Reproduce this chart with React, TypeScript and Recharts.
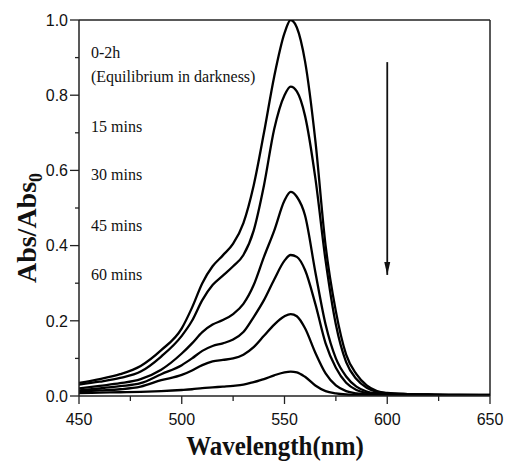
import { LineChart, Line, XAxis, YAxis, ReferenceLine, Customized } from 'recharts';

// wavelength grid (nm) and normalised absorbance
const WAVELENGTHS = [450, 460, 470, 480, 490, 500, 505, 510, 515, 520, 525, 530, 535, 540, 545, 550, 553, 556, 560, 565, 570, 575, 580, 585, 590, 595, 600, 610, 620, 635, 650];

const ABS_0_2H = [0.035, 0.045, 0.058, 0.08, 0.122, 0.18, 0.235, 0.3, 0.345, 0.374, 0.405, 0.46, 0.56, 0.7, 0.85, 0.965, 1.0, 0.98, 0.89, 0.68, 0.4, 0.225, 0.11, 0.058, 0.028, 0.013, 0.008, 0.005, 0.004, 0.003, 0.003];
const ABS_15 = [0.03, 0.038, 0.048, 0.065, 0.105, 0.16, 0.2, 0.255, 0.295, 0.32, 0.345, 0.375, 0.44, 0.56, 0.71, 0.8, 0.823, 0.81, 0.745, 0.58, 0.36, 0.19, 0.09, 0.045, 0.022, 0.011, 0.007, 0.005, 0.004, 0.003, 0.003];
const ABS_30 = [0.02, 0.027, 0.034, 0.045, 0.07, 0.113, 0.14, 0.17, 0.19, 0.202, 0.218, 0.245, 0.295, 0.37, 0.44, 0.52, 0.543, 0.53, 0.48, 0.33, 0.19, 0.1, 0.052, 0.025, 0.012, 0.007, 0.005, 0.004, 0.003, 0.003, 0.002];
const ABS_45 = [0.015, 0.02, 0.026, 0.034, 0.058, 0.082, 0.1, 0.12, 0.133, 0.14, 0.15, 0.17, 0.21, 0.255, 0.31, 0.36, 0.375, 0.37, 0.335, 0.245, 0.14, 0.075, 0.035, 0.016, 0.008, 0.005, 0.004, 0.003, 0.003, 0.002, 0.002];
const ABS_60 = [0.012, 0.015, 0.018, 0.025, 0.042, 0.056, 0.068, 0.082, 0.092, 0.096, 0.1, 0.11, 0.13, 0.16, 0.19, 0.212, 0.218, 0.212, 0.18, 0.115, 0.06, 0.028, 0.013, 0.007, 0.004, 0.003, 0.003, 0.002, 0.002, 0.002, 0.002];
const ABS_LAST = [0.008, 0.009, 0.01, 0.011, 0.013, 0.016, 0.018, 0.021, 0.023, 0.025, 0.027, 0.03, 0.037, 0.045, 0.055, 0.063, 0.065, 0.063, 0.051, 0.028, 0.013, 0.007, 0.004, 0.003, 0.002, 0.002, 0.002, 0.002, 0.002, 0.002, 0.002];

const SERIES_KEYS = ['s0', 's15', 's30', 's45', 's60', 'sLast'];
const SERIES_VALUES = [ABS_0_2H, ABS_15, ABS_30, ABS_45, ABS_60, ABS_LAST];

const LABELS = ['0-2h', '(Equilibrium in darkness)', '15 mins', '30 mins', '45 mins', '60 mins'];

const X_TICKS = [450, 475, 500, 525, 550, 575, 600, 625, 650];
const X_MAJOR = [450, 500, 550, 600, 650];
const Y_TICKS = [0, 0.1, 0.2, 0.3, 0.4, 0.5, 0.6, 0.7, 0.8, 0.9, 1.0];

// arrow: wavelength and start/end absorbance
const ARROW_WL = 600;
const ARROW_FROM = 0.888;
const ARROW_TO = 0.322;

const data = WAVELENGTHS.map((wl, i) => {
  const row: Record<string, number> = { wl };
  SERIES_KEYS.forEach((k, j) => {
    row[k] = SERIES_VALUES[j][i];
  });
  return row;
});

const arrowData = [
  { wl: ARROW_WL, a: ARROW_FROM },
  { wl: ARROW_WL, a: ARROW_TO },
];

const AXIS_COLOR = '#222';
const SANS = '"Liberation Sans", Arial, sans-serif';
const SERIF = '"Liberation Serif", "Times New Roman", serif';

const YTick = (props: any) => {
  const { x, y, payload } = props;
  const v = payload.value;
  const major = Math.round(v * 10) % 2 === 0;
  return (
    <g>
      <line x1={x} y1={y} x2={x - (major ? 9 : 4)} y2={y} stroke={AXIS_COLOR} strokeWidth={1.3} />
      {major && (
        <text x={x - 11} y={y} dy="0.36em" textAnchor="end" fontFamily={SANS} fontSize={16} fill="#111">
          {v.toFixed(1)}
        </text>
      )}
    </g>
  );
};

const XTick = (props: any) => {
  const { x, y, payload } = props;
  const v = payload.value;
  const major = X_MAJOR.includes(v);
  return (
    <g>
      <line x1={x} y1={y} x2={x} y2={y + (major ? 8 : 5)} stroke={AXIS_COLOR} strokeWidth={1.3} />
      {major && (
        <text x={x} y={y + 29} textAnchor="middle" fontFamily={SANS} fontSize={16} fill="#111">
          {v}
        </text>
      )}
    </g>
  );
};

const ArrowHead = (props: any) => {
  const { cx, cy, index } = props;
  if (index !== 1) return <g key={`ah-${index}`} />;
  return <path key="ah" d={`M${cx - 3},${cy - 13} L${cx + 3},${cy - 13} L${cx},${cy} Z`} fill="#111" />;
};

const Annotations = () => (
  <g fontFamily={SERIF} fill="#111">
    <text x={91} y={58} fontSize={16}>{LABELS[0]}</text>
    <text x={91} y={82} fontSize={16}>{LABELS[1]}</text>
    <text x={91} y={132} fontSize={16}>{LABELS[2]}</text>
    <text x={91} y={180} fontSize={16}>{LABELS[3]}</text>
    <text x={91} y={231} fontSize={16}>{LABELS[4]}</text>
    <text x={91} y={280} fontSize={16}>{LABELS[5]}</text>
    <text
      transform="translate(275,455) scale(1,1.1)"
      textAnchor="middle"
      fontSize={25}
      fontWeight="bold"
    >
      Wavelength(nm)
    </text>
    <text transform="translate(36,228) rotate(-90)" textAnchor="middle" fontSize={28} fontWeight="bold">
      Abs/Abs
      <tspan fontSize={18} dy={6}>0</tspan>
    </text>
  </g>
);

export default function App() {
  return (
    <div style={{ position: 'absolute', left: 0, top: 0, width: 505, height: 464 }}>
      <LineChart width={505} height={464} data={data} margin={{ top: 20, right: 15, left: 0, bottom: 0 }}>
        <XAxis
          dataKey="wl"
          type="number"
          domain={[450, 650]}
          ticks={X_TICKS}
          interval={0}
          height={68}
          tickSize={0}
          tickMargin={0}
          tickLine={false}
          axisLine={{ stroke: AXIS_COLOR, strokeWidth: 1.5 }}
          tick={<XTick />}
          allowDataOverflow
        />
        <YAxis
          type="number"
          domain={[0, 1]}
          ticks={Y_TICKS}
          interval={0}
          width={79}
          tickSize={0}
          tickMargin={0}
          tickLine={false}
          axisLine={{ stroke: AXIS_COLOR, strokeWidth: 1.5 }}
          tick={<YTick />}
          allowDataOverflow
        />
        <ReferenceLine y={1} stroke={AXIS_COLOR} strokeWidth={1.5} />
        <ReferenceLine x={650} stroke={AXIS_COLOR} strokeWidth={1.5} />
        {SERIES_KEYS.map((k) => (
          <Line
            key={k}
            dataKey={k}
            type="monotone"
            stroke="#000"
            strokeWidth={2.3}
            dot={false}
            activeDot={false}
            isAnimationActive={false}
          />
        ))}
        <Line
          data={arrowData}
          dataKey="a"
          type="linear"
          stroke="#111"
          strokeWidth={1.8}
          dot={ArrowHead}
          activeDot={false}
          isAnimationActive={false}
        />
        <Customized component={Annotations} />
      </LineChart>
    </div>
  );
}
